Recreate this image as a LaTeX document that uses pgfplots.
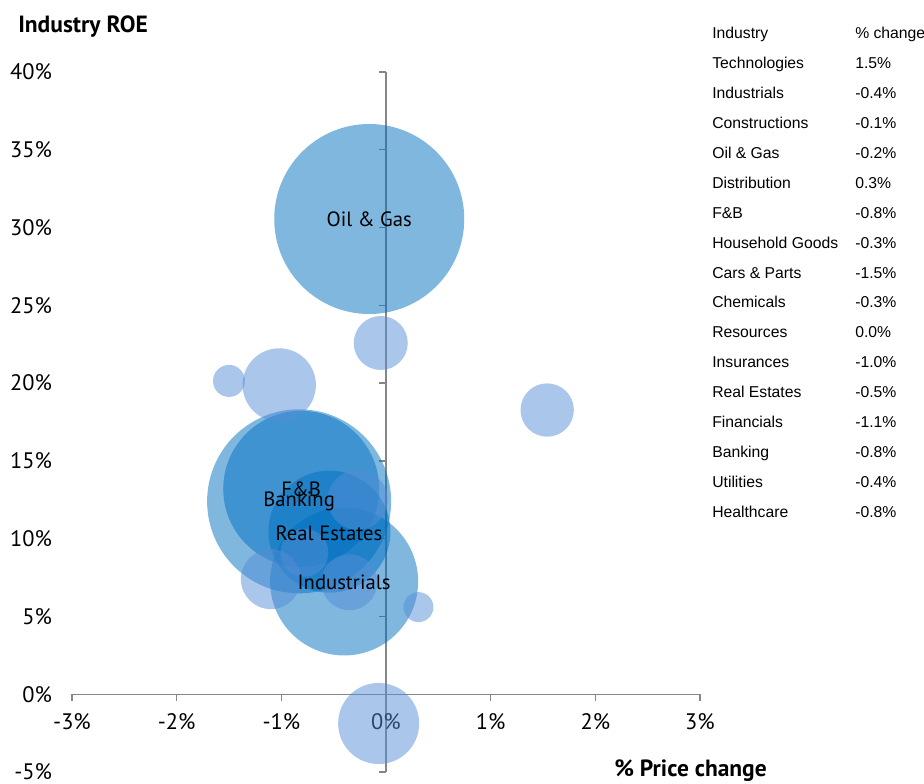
\documentclass[border=0pt]{standalone}
\usepackage{pgfplots}
\pgfplotsset{compat=1.18}
\usepackage{fontspec}
\setmainfont{PT Sans}
\newfontfamily\arialf{Liberation Sans}
\definecolor{darkb}{HTML}{0070C0}
\definecolor{lightb}{HTML}{558ED5}
\definecolor{axgray}{HTML}{868686}
\pgfplotstableread{
x y r
-0.05 22.58 20.25
-1.50 20.14 12.0
-1.02 19.88 27.5
1.54 18.27 20.0
-1.10 7.40 22.5
-0.35 7.20 21.0
-0.27 12.50 22.5
-0.78 9.10 18.0
0.31 5.60 11.25
-0.07 -1.88 30.4
}\lighttab
\pgfplotstableread{
x y r
-0.16 30.55 71.25
-0.83 12.40 69.0
-0.81 13.20 58.5
-0.54 10.45 45.75
-0.40 7.25 55.5
}\darktab
\newcommand{\tfont}{\fontsize{16.8}{19}\selectfont}
\newcommand{\lfont}{\fontsize{15.5}{18}\selectfont}
\newcommand{\hfont}{\fontsize{17.6}{20}\selectfont}
\newcommand{\rowfont}{\arialf\fontsize{11.8}{14}\selectfont}
\begin{document}
\begin{tikzpicture}
\begin{axis}[
  name=ax,
  scale only axis, width=471pt, height=525pt,
  xmin=-3, xmax=3, ymin=-5, ymax=40,
  axis lines=middle, axis line style={-, draw=axgray, line width=1pt},
  axis on top, enlargelimits=false, clip=false,
  xtick={-3,-2,-1,0,1,2,3}, ytick={-5,0,5,10,15,20,25,30,35,40},
  hide obscured x ticks=false, hide obscured y ticks=false,
  tick align=outside, major tick length=5pt,
  tick style={draw=axgray, line width=1pt},
  /pgf/number format/assume math mode=true,
  xticklabel={\pgfmathprintnumber{\tick}\%},
  yticklabel={\pgfmathprintnumber{\tick}\%},
  ticklabel style={font=\tfont},
  yticklabel style={anchor=east, inner ysep=0pt, xshift=-242pt},
  xticklabel style={anchor=north, yshift=-6pt},
]
\addplot[scatter, only marks, mark=*,
  scatter/use mapped color={draw=darkb, fill=darkb},
  mark options={fill opacity=0.5, draw opacity=0},
  visualization depends on={\thisrow{r}\as\rad},
  scatter/@pre marker code/.append style={/tikz/mark size=\rad}]
  table[x=x, y=y, meta=r]{\darktab};
\addplot[scatter, only marks, mark=*,
  scatter/use mapped color={draw=lightb, fill=lightb},
  mark options={fill opacity=0.5, draw opacity=0},
  visualization depends on={\thisrow{r}\as\rad},
  scatter/@pre marker code/.append style={/tikz/mark size=\rad}]
  table[x=x, y=y, meta=r]{\lighttab};
\coordinate (lOG) at (axis cs:-0.16,30.55);
\coordinate (lFB) at (axis cs:-0.81,13.20);
\coordinate (lBK) at (axis cs:-0.83,12.40);
\coordinate (lRE) at (axis cs:-0.545,10.35);
\coordinate (lIN) at (axis cs:-0.40,7.22);
\coordinate (o) at (axis cs:-3,-5);
\end{axis}
\node[font=\lfont] at (lOG) {Oil \& Gas};
\node[font=\lfont] at (lFB) {F\&B};
\node[font=\lfont] at (lBK) {Banking};
\node[font=\lfont] at (lRE) {Real Estates};
\node[font=\lfont] at (lIN) {Industrials};
\node[anchor=base west, inner sep=0, font=\bfseries\hfont] at ([shift={(-40.5pt,554.8pt)}]o) {Industry ROE};
\node[anchor=base east, inner sep=0, font=\bfseries\hfont] at ([shift={(521.25pt,-3pt)}]o) {\% Price change};
\foreach \n/\v [count=\i from 0] in {Industry/\% change, Technologies/1.5\%, Industrials/-0.4\%, Constructions/-0.1\%, Oil \& Gas/-0.2\%, Distribution/0.3\%, F\&B/-0.8\%, Household Goods/-0.3\%, Cars \& Parts/-1.5\%, Chemicals/-0.3\%, Resources/0.0\%, Insurances/-1.0\%, Real Estates/-0.5\%, Financials/-1.1\%, Banking/-0.8\%, Utilities/-0.4\%, Healthcare/-0.8\%}{
  \node[anchor=base west, inner sep=0, font=\rowfont] at ([shift={(480pt,550.1pt-22.455pt*\i)}]o) {\n};
  \node[anchor=base west, inner sep=0, font=\rowfont] at ([shift={(587.25pt,550.1pt-22.455pt*\i)}]o) {\v};
}
\pgfresetboundingbox
\path[use as bounding box] ([shift={(-54pt,-8.25pt)}]o) rectangle ([shift={(639pt,579pt)}]o);
\end{tikzpicture}
\end{document}
